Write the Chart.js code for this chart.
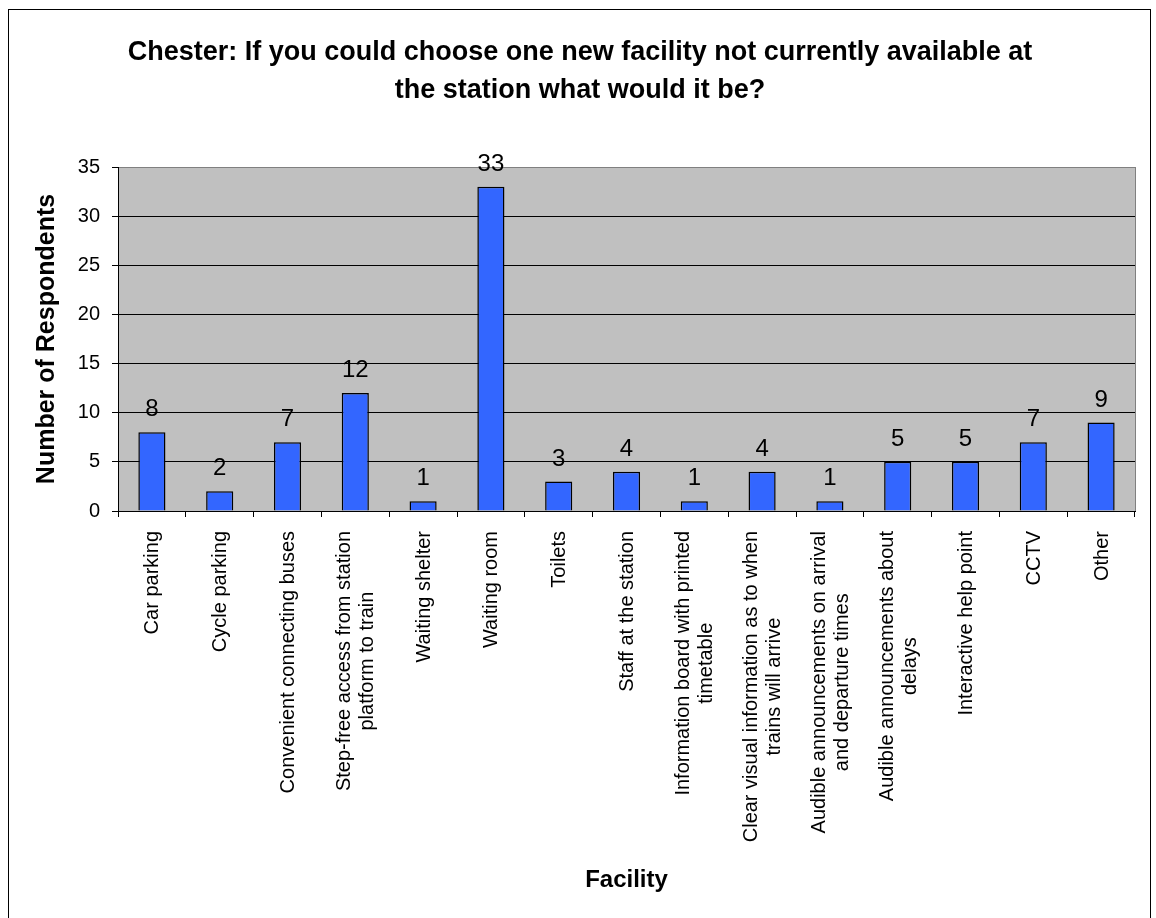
<!DOCTYPE html>
<html>
<head>
<meta charset="utf-8">
<script src="https://cdn.jsdelivr.net/npm/chart.js@4/dist/chart.umd.min.js"></script>
<style>
  html, body { margin: 0; padding: 0; background: #fff; }
  #wrap { width: 1156px; height: 918px; position: relative; }
</style>
</head>
<body>
<div id="wrap"><canvas id="chart" width="1156" height="918"></canvas></div>
<script>
const titleLines = [
  "Chester: If you could choose one new facility not currently available at",
  "the station what would it be?"
];
const facilities = [
  ["Car parking"],
  ["Cycle parking"],
  ["Convenient connecting buses"],
  ["Step-free access from station", "platform to train"],
  ["Waiting shelter"],
  ["Waiting room"],
  ["Toilets"],
  ["Staff at the station"],
  ["Information board with printed", "timetable"],
  ["Clear visual information as to when", "trains will arrive"],
  ["Audible announcements on arrival", "and departure times"],
  ["Audible announcements about", "delays"],
  ["Interactive help point"],
  ["CCTV"],
  ["Other"]
];
const respondents = [8, 2, 7, 12, 1, 33, 3, 4, 1, 4, 1, 5, 5, 7, 9];
const yMin = 0, yMax = 35, yStep = 5;

const FONT = '"Liberation Sans", Arial, sans-serif';

// grey plot area, outer frame, titles, rotated category labels, value labels
const excelLook = {
  id: "excelLook",
  beforeDraw(chart) {
    const { ctx, chartArea: a } = chart;
    ctx.save();
    ctx.fillStyle = "#fff";
    ctx.fillRect(0, 0, chart.width, chart.height);
    ctx.fillStyle = "#C0C0C0";
    ctx.fillRect(a.left, a.top, a.right - a.left, a.bottom - a.top);
    ctx.restore();
  },
  afterDraw(chart) {
    const { ctx, chartArea: a } = chart;
    const x = chart.scales.x;
    ctx.save();
    // plot border right side
    ctx.strokeStyle = "#808080";
    ctx.lineWidth = 1;
    ctx.beginPath();
    ctx.moveTo(Math.round(a.right) + 0.5, a.top);
    ctx.lineTo(Math.round(a.right) + 0.5, a.bottom);
    ctx.stroke();
    // chart frame
    ctx.strokeStyle = "#000";
    ctx.strokeRect(8.5, 9.5, 1142, 940);

    ctx.fillStyle = "#000";
    // title
    ctx.font = "bold 27px " + FONT;
    ctx.textAlign = "center";
    ctx.textBaseline = "middle";
    titleLines.forEach((t, i) => ctx.fillText(t, 580, 53 + i * 38));

    // axis titles
    ctx.font = "bold 24px " + FONT;
    ctx.fillText("Facility", (a.left + a.right) / 2, 880);
    ctx.font = "bold 25px " + FONT;
    ctx.save();
    ctx.translate(47, (a.top + a.bottom) / 2);
    ctx.rotate(-Math.PI / 2);
    ctx.fillText("Number of Respondents", 0, 0);
    ctx.restore();

    // category labels, rotated, lines centred inside their block
    ctx.font = "20px " + FONT;
    const lh = 23;
    facilities.forEach((lines, i) => {
      const px = x.getPixelForValue(i);
      const w = Math.max(...lines.map(l => ctx.measureText(l).width));
      ctx.save();
      ctx.translate(px, a.bottom + 20);
      ctx.rotate(-Math.PI / 2);
      lines.forEach((l, j) => {
        ctx.fillText(l, -w / 2, (j - (lines.length - 1) / 2) * lh + 1);
      });
      ctx.restore();
    });

    // value labels
    ctx.font = "24px " + FONT;
    ctx.textBaseline = "alphabetic";
    chart.getDatasetMeta(0).data.forEach((bar, i) => {
      ctx.fillText(String(respondents[i]), bar.x, bar.y - 16);
    });
    ctx.restore();
  }
};

new Chart(document.getElementById("chart"), {
  type: "bar",
  data: {
    labels: facilities.map(l => l.join(" ")),
    datasets: [{
      data: respondents,
      backgroundColor: "#3366FF",
      borderColor: "#000",
      borderWidth: 1.5,
      categoryPercentage: 1,
      barPercentage: 0.4
    }]
  },
  options: {
    responsive: false,
    animation: false,
    layout: { padding: { top: 167, right: 21, left: 0, bottom: 0 } },
    plugins: {
      legend: { display: false },
      tooltip: { enabled: false }
    },
    scales: {
      x: {
        afterFit: s => { s.height = 407; },
        ticks: { display: false },
        grid: {
          offset: true,
          drawOnChartArea: false,
          drawTicks: true,
          tickLength: 6,
          color: "#000",
          tickColor: "#000"
        },
        border: { color: "#000", width: 1 }
      },
      y: {
        min: yMin,
        max: yMax,
        afterFit: s => { s.width = 118; },
        ticks: {
          stepSize: yStep,
          padding: 12,
          color: "#000",
          font: { family: FONT, size: 20 }
        },
        grid: {
          color: c => (c.tick && c.tick.value === yMax ? "#808080" : "#000"),
          tickColor: "#000",
          tickLength: 6,
          lineWidth: 1
        },
        border: { color: "#000", width: 1 }
      }
    }
  },
  plugins: [excelLook]
});
</script>
</body>
</html>
